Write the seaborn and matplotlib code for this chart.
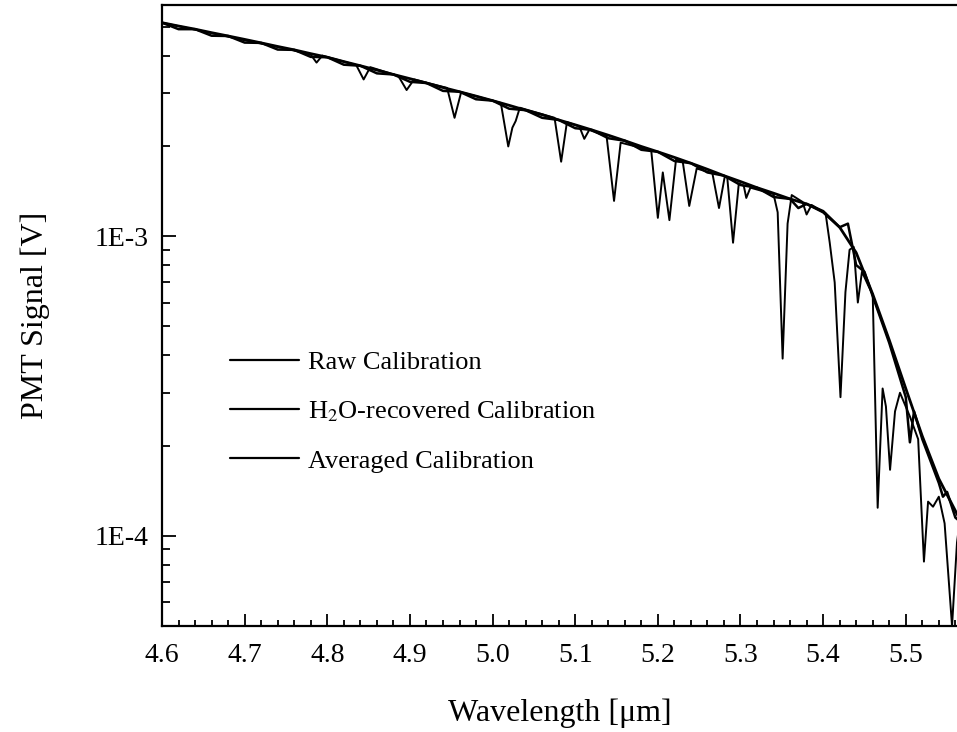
import numpy as np
import pandas as pd
import seaborn as sns
import matplotlib.pyplot as plt
from matplotlib.ticker import FixedLocator, LogLocator, MultipleLocator, FuncFormatter, NullFormatter

# data (wavelength in um, signal in V)
raw_x = [4.600, 4.650, 4.700, 4.750, 4.780, 4.787, 4.794, 4.835, 4.844, 4.852,
         4.886, 4.896, 4.905, 4.945, 4.954, 4.962, 5.000, 5.010, 5.019, 5.024,
         5.028, 5.033, 5.075, 5.083, 5.090, 5.105, 5.111, 5.117, 5.138, 5.147,
         5.155, 5.192, 5.200, 5.206, 5.214, 5.222, 5.230, 5.238, 5.247, 5.266,
         5.274, 5.281, 5.284, 5.291, 5.298, 5.304, 5.307, 5.312, 5.340, 5.345,
         5.351, 5.357, 5.362, 5.375, 5.380, 5.386, 5.403, 5.408, 5.414, 5.421,
         5.427, 5.432, 5.437, 5.442, 5.447, 5.455, 5.460, 5.466, 5.472, 5.476,
         5.481, 5.487, 5.493, 5.505, 5.515, 5.522, 5.527, 5.533, 5.540, 5.547,
         5.556, 5.562, 5.565]
raw_y = [5.15e-3, 4.82e-3, 4.50e-3, 4.22e-3, 4.03e-3, 3.79e-3, 4.00e-3, 3.72e-3, 3.33e-3, 3.66e-3,
         3.42e-3, 3.07e-3, 3.33e-3, 3.12e-3, 2.48e-3, 3.02e-3, 2.83e-3, 2.78e-3, 1.99e-3, 2.30e-3,
         2.42e-3, 2.68e-3, 2.48e-3, 1.77e-3, 2.40e-3, 2.32e-3, 2.11e-3, 2.26e-3, 2.15e-3, 1.31e-3,
         2.05e-3, 1.93e-3, 1.15e-3, 1.63e-3, 1.13e-3, 1.80e-3, 1.78e-3, 1.26e-3, 1.68e-3, 1.62e-3,
         1.24e-3, 1.58e-3, 1.57e-3, 9.5e-4, 1.50e-3, 1.47e-3, 1.34e-3, 1.45e-3, 1.38e-3, 1.20e-3,
         3.9e-4, 1.10e-3, 1.37e-3, 1.30e-3, 1.18e-3, 1.27e-3, 1.19e-3, 9.5e-4, 7.0e-4, 2.9e-4,
         6.5e-4, 9.0e-4, 9.2e-4, 6.0e-4, 7.6e-4, 6.8e-4, 6.4e-4, 1.24e-4, 3.1e-4, 2.7e-4,
         1.66e-4, 2.6e-4, 3.0e-4, 2.5e-4, 2.1e-4, 8.2e-5, 1.30e-4, 1.25e-4, 1.35e-4, 1.10e-4,
         5.0e-5, 9.5e-5, 1.10e-4]

h2o_x = [4.60, 4.62, 4.64, 4.66, 4.68, 4.70, 4.72, 4.74, 4.76, 4.78,
         4.80, 4.82, 4.84, 4.86, 4.88, 4.90, 4.92, 4.94, 4.96, 4.98,
         5.00, 5.02, 5.04, 5.06, 5.08, 5.10, 5.12, 5.14, 5.16, 5.18,
         5.20, 5.22, 5.24, 5.26, 5.28, 5.30, 5.32, 5.34, 5.36, 5.37,
         5.38, 5.40, 5.42, 5.43, 5.44, 5.45, 5.46, 5.48, 5.50, 5.505,
         5.51, 5.52, 5.54, 5.545, 5.55, 5.56, 5.565]
h2o_y = [5.15e-3, 4.90e-3, 4.90e-3, 4.66e-3, 4.65e-3, 4.42e-3, 4.41e-3, 4.19e-3, 4.18e-3, 3.96e-3,
         3.95e-3, 3.73e-3, 3.70e-3, 3.49e-3, 3.46e-3, 3.27e-3, 3.24e-3, 3.05e-3, 3.03e-3, 2.86e-3,
         2.83e-3, 2.66e-3, 2.63e-3, 2.48e-3, 2.44e-3, 2.29e-3, 2.26e-3, 2.12e-3, 2.08e-3, 1.94e-3,
         1.91e-3, 1.78e-3, 1.75e-3, 1.63e-3, 1.59e-3, 1.48e-3, 1.45e-3, 1.35e-3, 1.33e-3, 1.24e-3,
         1.28e-3, 1.20e-3, 1.07e-3, 1.10e-3, 8.0e-4, 7.6e-4, 6.3e-4, 4.4e-4, 2.9e-4, 2.05e-4,
         2.6e-4, 2.1e-4, 1.5e-4, 1.35e-4, 1.4e-4, 1.15e-4, 1.12e-4]

avg_x = [4.60, 4.62, 4.64, 4.66, 4.68, 4.70, 4.72, 4.74, 4.76, 4.78,
         4.80, 4.82, 4.84, 4.86, 4.88, 4.90, 4.92, 4.94, 4.96, 4.98,
         5.00, 5.02, 5.04, 5.06, 5.08, 5.10, 5.12, 5.14, 5.16, 5.18,
         5.20, 5.22, 5.24, 5.26, 5.28, 5.30, 5.32, 5.34, 5.36, 5.38,
         5.40, 5.42, 5.44, 5.46, 5.48, 5.50, 5.52, 5.54, 5.565]
avg_y = [5.15e-3, 5.02e-3, 4.90e-3, 4.77e-3, 4.65e-3, 4.53e-3, 4.41e-3, 4.29e-3, 4.18e-3, 4.06e-3,
         3.95e-3, 3.82e-3, 3.70e-3, 3.58e-3, 3.46e-3, 3.35e-3, 3.24e-3, 3.13e-3, 3.03e-3, 2.93e-3,
         2.83e-3, 2.73e-3, 2.63e-3, 2.54e-3, 2.44e-3, 2.35e-3, 2.26e-3, 2.17e-3, 2.08e-3, 1.99e-3,
         1.91e-3, 1.83e-3, 1.75e-3, 1.67e-3, 1.59e-3, 1.52e-3, 1.45e-3, 1.39e-3, 1.33e-3, 1.28e-3,
         1.21e-3, 1.07e-3, 8.8e-4, 6.4e-4, 4.5e-4, 3.1e-4, 2.15e-4, 1.55e-4, 1.14e-4]

labels = ['Raw Calibration', 'H$_2$O-recovered Calibration', 'Averaged Calibration']
x_ticks = [4.6, 4.7, 4.8, 4.9, 5.0, 5.1, 5.2, 5.3, 5.4, 5.5]

sns.set_theme(style='ticks')
plt.rcParams['font.family'] = ['Liberation Serif', 'DejaVu Serif']
plt.rcParams['mathtext.fontset'] = 'stix'
plt.rcParams['text.color'] = 'black'
plt.rcParams['axes.labelcolor'] = 'black'
plt.rcParams['xtick.color'] = 'black'
plt.rcParams['ytick.color'] = 'black'

fig = plt.figure(figsize=(9.57, 7.32), dpi=100)
ax = fig.add_axes([162 / 957, 106 / 732, 795 / 957, 621 / 732])

sns.lineplot(x=raw_x, y=raw_y, ax=ax, color='black', lw=1.4, estimator=None, label=labels[0])
sns.lineplot(x=h2o_x, y=h2o_y, ax=ax, color='black', lw=1.8, estimator=None, label=labels[1])
sns.lineplot(x=avg_x, y=avg_y, ax=ax, color='black', lw=2.0, estimator=None, label=labels[2])

ax.set_yscale('log')
ax.set_xlim(4.6, 5.562)
ax.set_ylim(5e-5, 5.9e-3)

ax.xaxis.set_major_locator(FixedLocator(x_ticks))
ax.xaxis.set_minor_locator(MultipleLocator(0.02))
ax.set_xticklabels([f'{v:.1f}' for v in x_ticks])
ax.yaxis.set_major_locator(FixedLocator([1e-4, 1e-3]))
ax.yaxis.set_major_formatter(FuncFormatter(lambda v, p: '1E%d' % round(np.log10(v))))
ax.yaxis.set_minor_locator(LogLocator(base=10, subs=np.arange(2, 10)))
ax.yaxis.set_minor_formatter(NullFormatter())

ax.tick_params(axis='both', which='both', direction='in', labelsize=20, width=1.3,
               color='black', labelcolor='black')
ax.tick_params(axis='x', which='major', length=8.5, pad=12)
ax.tick_params(axis='x', which='minor', length=4.5)
ax.tick_params(axis='y', which='major', length=10, pad=10)
ax.tick_params(axis='y', which='minor', length=5.5)

for s in ['left', 'bottom', 'top']:
    ax.spines[s].set_linewidth(1.6)
    ax.spines[s].set_color('black')
ax.spines['right'].set_visible(False)

ax.set_xlabel('Wavelength [μm]', fontsize=23, labelpad=22, color='black')
ax.set_ylabel('PMT Signal [V]', fontsize=23, labelpad=32, color='black')

leg = ax.legend(loc='upper left', bbox_to_anchor=(230 / 957, 1 - 351 / 732),
                bbox_transform=fig.transFigure, frameon=False, fontsize=19,
                handlelength=2.6, handletextpad=0.35, labelspacing=0.95,
                borderpad=0, borderaxespad=0)
for line in leg.get_lines():
    line.set_linewidth(1.6)
for t in leg.get_texts():
    t.set_color('black')

fig.savefig('out.png', dpi=100)
